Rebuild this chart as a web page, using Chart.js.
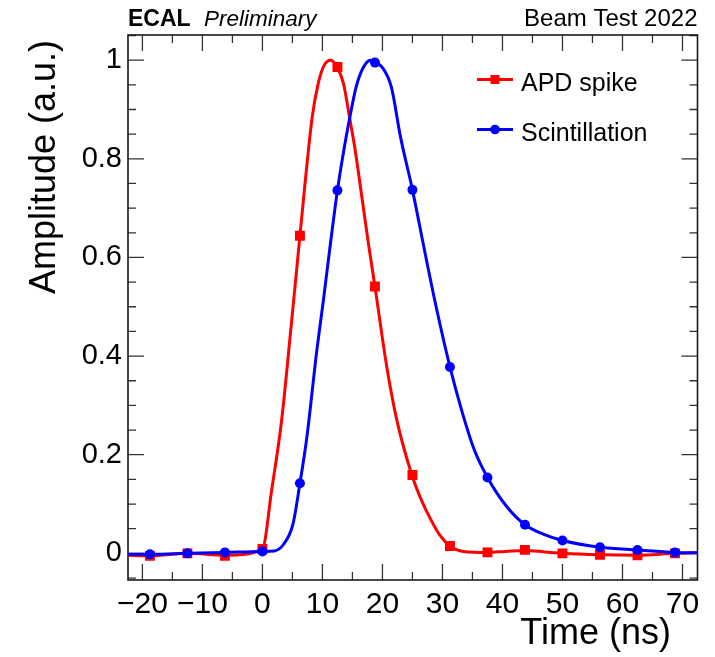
<!DOCTYPE html>
<html>
<head>
<meta charset="utf-8">
<script src="https://cdn.jsdelivr.net/npm/chart.js@4.4.1/dist/chart.umd.min.js"></script>
<style>
  html, body { margin: 0; padding: 0; background: #fff; }
  canvas { display: block; }
</style>
</head>
<body>
<canvas id="pulse" width="715" height="657"></canvas>
<script>
// samples every 6.25 ns
const sampleTimes = [-18.75, -12.5, -6.25, 0, 6.25, 12.5, 18.75, 25, 31.25, 37.5, 43.75, 50, 56.25, 62.5, 68.75];
const apdSpike = [-0.005, 0.0, -0.005, 0.009, 0.644, 0.986, 0.541, 0.159, 0.015, 0.002, 0.007, 0.0, -0.003, -0.004, 0.0];
const scintillation = [-0.002, 0.0, 0.002, 0.004, 0.142, 0.736, 0.995, 0.737, 0.378, 0.154, 0.058, 0.026, 0.0125, 0.007, 0.002];

// fitted pulse shapes
const apdCurveTime = [-22.4, -18.75, -12.5, -6.25, 0, 1.5, 3.2, 4.7, 6.25, 7.1, 8.3, 9.3, 10.3, 11.4, 12.45, 13.5, 14.5, 15.45, 16.6, 17.7, 18.75, 20.7, 22.4, 24.9, 26.5, 28, 29.5, 31.25, 33.5, 37.5, 40.5, 43.75, 47, 50, 56.25, 62.5, 68.75, 72.5];
const apdCurveAmp = [-0.004, -0.005, 0.0, -0.004, 0.009, 0.125, 0.27, 0.45, 0.644, 0.75, 0.885, 0.953, 0.99, 1.0, 0.986, 0.953, 0.885, 0.818, 0.72, 0.625, 0.541, 0.38, 0.27, 0.159, 0.108, 0.07, 0.038, 0.015, 0.004, 0.002, 0.004, 0.006, 0.003, 0.0, -0.003, -0.004, 0.0, 0.001];
const scintCurveTime = [-22.4, -18.75, -12.5, -6.25, 0, 2, 3.5, 5.1, 6.25, 7.4, 9.07, 10.17, 11.2, 12.5, 13.67, 14.5, 15.6, 16.8, 18, 18.75, 20, 21.5, 23, 25, 27, 29, 31.25, 33.2, 35.3, 37.5, 40.7, 43.75, 47, 50, 56.25, 62.5, 68.75, 72.5];
const scintCurveAmp = [-0.002, -0.002, 0.0, 0.002, 0.004, 0.005, 0.018, 0.06, 0.142, 0.235, 0.412, 0.514, 0.615, 0.736, 0.825, 0.88, 0.945, 0.985, 1.0, 0.995, 0.985, 0.945, 0.845, 0.737, 0.615, 0.497, 0.378, 0.29, 0.21, 0.154, 0.095, 0.058, 0.038, 0.026, 0.0125, 0.007, 0.002, 0.001];

const xTicks = [-20, -10, 0, 10, 20, 30, 40, 50, 60, 70];
const yTicks = [0, 0.2, 0.4, 0.6, 0.8, 1];

const FONT = "'Liberation Sans', Arial, Helvetica, sans-serif";
const RED = '#ff0000';
const BLUE = '#0000ff';

function toPoints(xs, ys) {
    return xs.map((x, i) => ({ x: x, y: ys[i] }));
}

function fmtTick(v) {
    let r = Math.round(v * 10) / 10;
    return r < 0 ? '\u2212' + Math.abs(r) : String(r);
}

// ROOT-like frame: box, inner ticks, header, axis titles, legend
const rootStyle = {
    id: 'rootStyle',
    beforeDatasetsDraw(chart) {
        const c = chart.ctx;
        const a = chart.chartArea;
        const sx = chart.scales.x, sy = chart.scales.y;
        c.save();
        c.strokeStyle = '#333';
        c.lineWidth = 1.3;
        c.beginPath();
        // x ticks (bottom + top)
        for (let v = -25; v <= sx.max; v += 5) {
            if (v < sx.min) continue;
            let px = sx.getPixelForValue(v);
            let len = (v % 10 === 0) ? 16 : 8;
            c.moveTo(px, a.bottom); c.lineTo(px, a.bottom - len);
            c.moveTo(px, a.top); c.lineTo(px, a.top + len);
        }
        // y ticks (left + right)
        for (let k = -1; k <= 21; k++) {
            let v = k * 0.05;
            if (v < sy.min || v > sy.max) continue;
            let py = sy.getPixelForValue(v);
            let len = (k % 4 === 0) ? 16 : 8;
            c.moveTo(a.left, py); c.lineTo(a.left + len, py);
            c.moveTo(a.right, py); c.lineTo(a.right - len, py);
        }
        c.stroke();
        c.strokeStyle = '#1a1a1a';
        c.lineWidth = 1.6;
        c.strokeRect(a.left, a.top, a.right - a.left, a.bottom - a.top);
        c.restore();
    },
    afterDraw(chart) {
        const c = chart.ctx;
        const a = chart.chartArea;
        c.save();
        c.fillStyle = '#000';
        c.textBaseline = 'alphabetic';

        // header
        c.textAlign = 'left';
        c.font = 'bold 23px ' + FONT;
        c.fillText('ECAL', a.left, 26);
        c.font = 'italic 22.5px ' + FONT;
        c.fillText('Preliminary', a.left + 76, 26);
        c.textAlign = 'right';
        c.font = '24px ' + FONT;
        c.fillText('Beam Test 2022', a.right, 26);

        // axis titles
        c.font = '36px ' + FONT;
        c.fillText('Time (ns)', 671, 644);
        c.save();
        c.translate(55, 40);
        c.rotate(-Math.PI / 2);
        c.textAlign = 'right';
        c.fillText('Amplitude (a.u.)', 0, 0);
        c.restore();

        // legend
        const entries = [
            { label: 'APD spike', color: RED, shape: 'rect', y: 79.5 },
            { label: 'Scintillation', color: BLUE, shape: 'circle', y: 129.5 }
        ];
        c.textAlign = 'left';
        c.font = '25px ' + FONT;
        entries.forEach(e => {
            c.strokeStyle = e.color;
            c.fillStyle = e.color;
            c.lineWidth = 3;
            c.beginPath();
            c.moveTo(477, e.y); c.lineTo(513, e.y);
            c.stroke();
            c.beginPath();
            if (e.shape === 'rect') c.rect(495 - 4.5, e.y - 4.5, 9, 9);
            else c.arc(495, e.y, 4.8, 0, Math.PI * 2);
            c.fill();
            c.fillStyle = '#000';
            c.fillText(e.label, 521, e.y + 11);
        });
        c.restore();
    }
};

const ctx = document.getElementById('pulse').getContext('2d');
new Chart(ctx, {
    type: 'scatter',
    data: {
        datasets: [
            {
                label: 'Scintillation',
                data: toPoints(sampleTimes, scintillation),
                pointStyle: 'circle',
                pointRadius: 5,
                pointBorderWidth: 0,
                backgroundColor: BLUE,
                borderColor: BLUE,
                order: 0
            },
            {
                label: 'Scintillation fit',
                data: toPoints(scintCurveTime, scintCurveAmp),
                showLine: true,
                pointRadius: 0,
                borderColor: BLUE,
                borderWidth: 3,
                cubicInterpolationMode: 'monotone',
                order: 1
            },
            {
                label: 'APD spike',
                data: toPoints(sampleTimes, apdSpike),
                pointStyle: 'rect',
                pointRadius: 7,
                pointBorderWidth: 0,
                backgroundColor: RED,
                borderColor: RED,
                order: 2
            },
            {
                label: 'APD spike fit',
                data: toPoints(apdCurveTime, apdCurveAmp),
                showLine: true,
                pointRadius: 0,
                borderColor: RED,
                borderWidth: 3,
                cubicInterpolationMode: 'monotone',
                order: 3
            }
        ]
    },
    options: {
        responsive: false,
        animation: false,
        layout: { padding: { top: 35, right: 17.5, left: 0, bottom: 0 } },
        plugins: {
            legend: { display: false },
            tooltip: { enabled: false }
        },
        scales: {
            x: {
                type: 'linear',
                min: -22.4,
                max: 72.5,
                grid: { display: false, drawTicks: false },
                border: { display: false },
                afterBuildTicks: s => { s.ticks = xTicks.map(v => ({ value: v })); },
                afterFit: s => { s.height = 77; },
                ticks: {
                    autoSkip: false,
                    maxRotation: 0,
                    padding: 7,
                    color: '#000',
                    font: { family: FONT, size: 30 },
                    callback: v => fmtTick(v)
                }
            },
            y: {
                type: 'linear',
                min: -0.054,
                max: 1.051,
                grid: { display: false, drawTicks: false },
                border: { display: false },
                afterBuildTicks: s => { s.ticks = yTicks.map(v => ({ value: v })); },
                afterFit: s => { s.width = 128; },
                ticks: {
                    autoSkip: false,
                    padding: 6,
                    color: '#000',
                    font: { family: FONT, size: 29 },
                    callback: v => fmtTick(v)
                }
            }
        }
    },
    plugins: [rootStyle]
});
</script>
</body>
</html>
